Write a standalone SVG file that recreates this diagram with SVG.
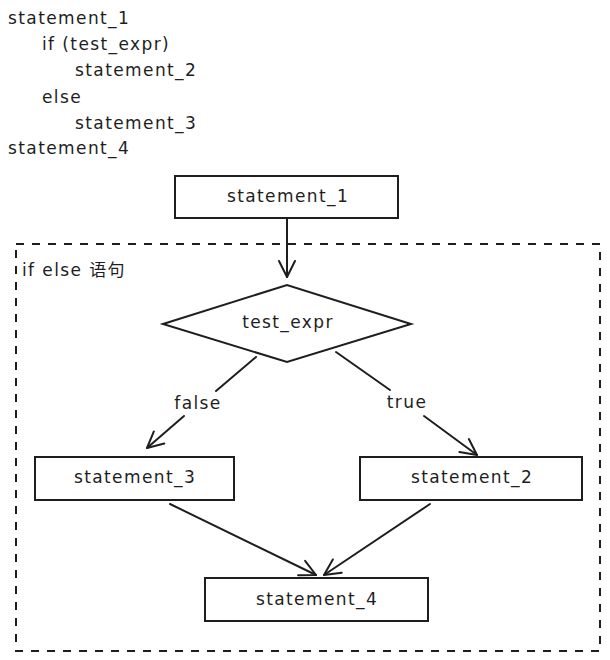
<svg xmlns="http://www.w3.org/2000/svg" width="610" height="660" viewBox="0 0 610 660">
  <defs>
    <marker id="arrow" viewBox="0 0 20 20" refX="18" refY="10" markerWidth="20" markerHeight="20" markerUnits="userSpaceOnUse" orient="auto">
      <path d="M2,2 L18,10 L2,18" fill="none" stroke="#1e1e1e" stroke-width="2" stroke-linecap="round" stroke-linejoin="round"/>
    </marker>
    <style>
      text { font-family: "DejaVu Sans", "Noto Sans CJK SC", sans-serif; fill: #1e1e1e; font-size: 17px; letter-spacing: 1.4px; }
      .label { text-anchor: middle; dominant-baseline: central; }
      .box { fill: #ffffff; stroke: #1e1e1e; stroke-width: 2; }
      .edge { fill: none; stroke: #1e1e1e; stroke-width: 2; stroke-linecap: round; }
      .frame { fill: none; stroke: #1e1e1e; stroke-width: 2; stroke-dasharray: 8 8; }
    </style>
  </defs>
  <rect width="610" height="660" fill="#ffffff"/>

  <!-- source listing -->
  <g id="code">
    <text x="8" y="24">statement_1</text>
    <text x="42" y="50">if (test_expr)</text>
    <text x="75" y="76">statement_2</text>
    <text x="42" y="103">else</text>
    <text x="75" y="129">statement_3</text>
    <text x="8" y="154">statement_4</text>
  </g>

  <!-- dashed frame around the if/else block -->
  <g id="if-else-frame">
    <rect class="frame" x="16" y="244" width="584" height="407"/>
    <text x="22" y="276" font-size="16" letter-spacing="0.6">if else 语句</text>
  </g>

  <g id="connectors">
    <line class="edge" x1="287" y1="218" x2="287" y2="277" marker-end="url(#arrow)"/>
    <line class="edge" x1="256" y1="357" x2="216" y2="391"/>
    <line class="edge" x1="184" y1="416" x2="147" y2="448" marker-end="url(#arrow)"/>
    <line class="edge" x1="336" y1="352" x2="390" y2="390"/>
    <line class="edge" x1="424" y1="416" x2="477" y2="455" marker-end="url(#arrow)"/>
    <line class="edge" x1="170" y1="504" x2="316" y2="575" marker-end="url(#arrow)"/>
    <line class="edge" x1="430" y1="504" x2="324" y2="575" marker-end="url(#arrow)"/>
    <text class="label" x="198" y="403">false</text>
    <text class="label" x="407" y="402">true</text>
  </g>

  <g id="statement_1">
    <rect class="box" x="175" y="176" width="223" height="42"/>
    <text class="label" x="288" y="196">statement_1</text>
  </g>

  <g id="test_expr">
    <polygon class="box" points="163,324 287,285 411,324 287,362"/>
    <text class="label" x="288" y="322">test_expr</text>
  </g>

  <g id="statement_3">
    <rect class="box" x="35" y="457" width="199" height="43"/>
    <text class="label" x="135" y="477">statement_3</text>
  </g>

  <g id="statement_2">
    <rect class="box" x="360" y="457" width="222" height="43"/>
    <text class="label" x="472" y="477">statement_2</text>
  </g>

  <g id="statement_4">
    <rect class="box" x="205" y="578" width="223" height="43"/>
    <text class="label" x="317" y="599">statement_4</text>
  </g>
</svg>
